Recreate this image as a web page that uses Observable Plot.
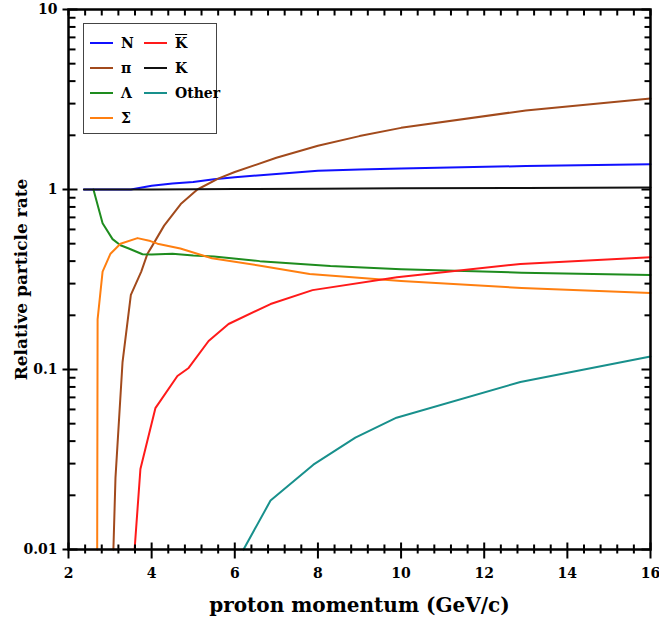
<!DOCTYPE html>
<html>
<head>
<meta charset="utf-8">
<script src="https://cdn.jsdelivr.net/npm/d3@7"></script>
<script src="https://cdn.jsdelivr.net/npm/@observablehq/plot@0.6"></script>
<style>
  html, body { margin: 0; padding: 0; background: #fff; }
  #wrap { position: relative; width: 659px; height: 622px; }
  #legend { position: absolute; left: 83px; top: 23px; width: 132px; height: 109px;
    border: 1.2px solid #444; background: #fff; font-family: "DejaVu Serif", serif; font-weight: bold; font-size: 14px; }
  .item { position: absolute; display: flex; align-items: center; height: 20px; }
  .sw { width: 23px; height: 0; border-top: 2.5px solid; margin-right: 8px; }
  .ov { text-decoration: overline; }
</style>
</head>
<body>
<div id="wrap"></div>
<script>
// ---- data ----
const nX = [2.37, 3.5, 4.0, 4.5, 5.0, 5.5, 6.0, 7.0, 8.0, 9.0, 10.0, 13.0, 16.0];
const nY = [1.0, 1.0, 1.05, 1.08, 1.10, 1.14, 1.17, 1.22, 1.27, 1.29, 1.31, 1.35, 1.38];

const piX = [3.08, 3.13, 3.3, 3.5, 3.75, 3.9, 4.0, 4.3, 4.7, 5.1, 5.6, 6.0, 7.0, 8.0, 9.0, 10.0, 13.0, 16.0];
const piY = [0.01, 0.025, 0.11, 0.26, 0.35, 0.44, 0.48, 0.63, 0.83, 1.0, 1.15, 1.25, 1.5, 1.75, 1.98, 2.2, 2.75, 3.2];

const lamX = [2.6, 2.82, 3.06, 3.25, 3.45, 3.78, 4.0, 4.5, 5.0, 5.5, 6.6, 8.3, 10.0, 12.9, 16.0];
const lamY = [1.0, 0.65, 0.53, 0.49, 0.47, 0.437, 0.435, 0.44, 0.43, 0.425, 0.40, 0.376, 0.361, 0.345, 0.335];

const sigX = [2.69, 2.70, 2.82, 3.01, 3.25, 3.66, 3.97, 4.14, 4.69, 5.45, 6.65, 7.8, 10.0, 12.9, 16.0];
const sigY = [0.01, 0.19, 0.35, 0.44, 0.50, 0.537, 0.517, 0.50, 0.47, 0.415, 0.376, 0.339, 0.31, 0.284, 0.266];

const kbX = [3.59, 3.73, 4.09, 4.62, 4.89, 5.37, 5.85, 6.86, 7.87, 9.9, 12.87, 16.0];
const kbY = [0.01, 0.028, 0.061, 0.092, 0.102, 0.144, 0.179, 0.231, 0.276, 0.325, 0.386, 0.42];

const kX = [2.37, 4.0, 6.0, 8.0, 10.0, 13.0, 16.0];
const kY = [1.0, 1.0, 1.005, 1.01, 1.015, 1.02, 1.025];

const othX = [6.21, 6.86, 7.89, 8.9, 9.89, 12.87, 16.0];
const othY = [0.01, 0.0187, 0.0296, 0.0418, 0.054, 0.0853, 0.118];

const seriesNames = ["N", "π", "Λ", "Σ", "K̄", "K", "Other"];
const seriesColors = ["#1010ff", "#a24a1c", "#1e8c1e", "#ff7f10", "#ff1a1a", "#111111", "#18908c"];

const xMajor = [2, 4, 6, 8, 10, 12, 14, 16];
const xLabel = "proton momentum (GeV/c)";
const yLabel = "Relative particle rate";
const yMajor = [0.01, 0.1, 1, 10];

// ---- build ----
const seriesXY = [[nX, nY], [piX, piY], [lamX, lamY], [sigX, sigY], [kbX, kbY], [kX, kY], [othX, othY]];
const rows = [];
seriesXY.forEach(([xs, ys], i) => xs.forEach((x, j) => rows.push({series: seriesNames[i], x, y: ys[j]})));

const xAll = d3.range(2, 16.001, 0.4).map(v => +v.toFixed(1));
const xMinor = xAll.filter(v => !xMajor.some(m => Math.abs(m - v) < 1e-6));
const yMinor = [];
[0.01, 0.1, 1].forEach(d => { for (let k = 2; k <= 9; k++) yMinor.push(+(d * k).toPrecision(3)); });

const W = 659, H = 622, mL = 68, mR = 9, mT = 9, mB = 73;
const xDomain = [2, 16], yDomain = [0.01, 10];
const id = d => d;

// scales (same as the plot's) used to turn tick lengths in pixels into data offsets
const sx = Plot.scale({x: {domain: xDomain, range: [mL, W - mR]}});
const sy = Plot.scale({y: {type: "log", domain: yDomain, range: [H - mB, mT]}});
const pBottom = H - mB, pTop = mT, pLeft = mL, pRight = W - mR;

const tickRows = [];
let tk = 0;
function vTick(x, p1, p2) { tk++; tickRows.push({k: tk, x, y: sy.invert(p1)}, {k: tk, x, y: sy.invert(p2)}); }
function hTick(y, p1, p2) { tk++; tickRows.push({k: tk, x: sx.invert(p1), y}, {k: tk, x: sx.invert(p2), y}); }
xMajor.forEach(x => vTick(x, pBottom - 7, pBottom + 9));
xMinor.forEach(x => vTick(x, pBottom - 5, pBottom + 4));
xAll.forEach(x => vTick(x, pTop, pTop + 6));
yMajor.forEach(y => { hTick(y, pLeft - 6, pLeft + 9); hTick(y, pRight - 9, pRight); });
yMinor.forEach(y => { hTick(y, pLeft, pLeft + 7); hTick(y, pRight - 6, pRight); });

const chart = Plot.plot({
  width: W,
  height: H,
  marginLeft: mL,
  marginRight: mR,
  marginTop: mT,
  marginBottom: mB,
  style: {fontFamily: "DejaVu Serif, serif", fontWeight: "bold", fontSize: "14px", color: "#000", background: "#fff"},
  x: {domain: xDomain},
  y: {type: "log", domain: yDomain},
  color: {domain: seriesNames, range: seriesColors},
  marks: [
    Plot.line(rows, {x: "x", y: "y", z: "series", stroke: "series", strokeWidth: 2}),
    Plot.frame({stroke: "#000", strokeWidth: 2.5}),
    Plot.line(tickRows, {x: "x", y: "y", z: "k", stroke: "#000", strokeWidth: 2, strokeLinecap: "butt"}),
    // tick labels
    Plot.axisX({anchor: "bottom", ticks: xMajor, tickSize: 0, tickPadding: 19, tickFormat: d => String(d), label: null, fontSize: 14}),
    Plot.axisY({anchor: "left", ticks: yMajor, tickSize: 0, tickPadding: 11, tickFormat: d => String(d), label: null, fontSize: 14}),
    // axis titles
    Plot.text([xLabel], {frameAnchor: "bottom", dy: 62, text: id, fontSize: 20, fontWeight: "bold", fill: "#000"}),
    Plot.text([yLabel], {frameAnchor: "left", dx: -47, rotate: -90, textAnchor: "middle", text: id, fontSize: 17, fontWeight: "bold", fill: "#000"})
  ]
});

const wrap = document.getElementById("wrap");
wrap.appendChild(chart);

// legend (inside the plot area, top-left)
const legend = document.createElement("div");
legend.id = "legend";
const pos = [[0, 0], [0, 1], [0, 2], [0, 3], [1, 0], [1, 1], [1, 2]];
seriesNames.forEach((name, i) => {
  const [c, r] = pos[i];
  const it = document.createElement("div");
  it.className = "item";
  it.style.left = (c === 0 ? 6 : 60) + "px";
  it.style.top = (9 + r * 25) + "px";
  const sw = document.createElement("div");
  sw.className = "sw";
  sw.style.borderTopColor = seriesColors[i];
  const tx = document.createElement("span");
  if (name === "K̄") { tx.className = "ov"; tx.textContent = "K"; } else tx.textContent = name;
  it.appendChild(sw);
  it.appendChild(tx);
  legend.appendChild(it);
});
wrap.appendChild(legend);
</script>
</body>
</html>
